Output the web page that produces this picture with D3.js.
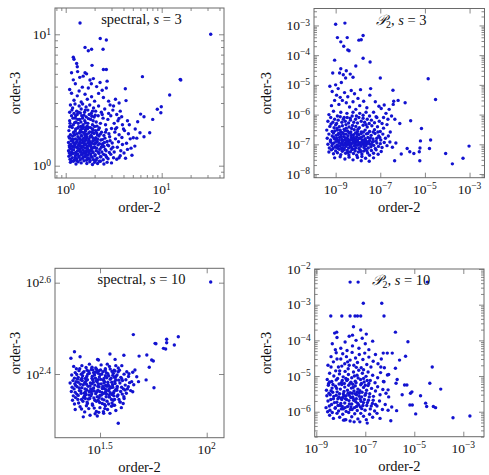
<!DOCTYPE html>
<html><head><meta charset="utf-8">
<script src="https://cdn.jsdelivr.net/npm/d3@7"></script>
<style>body{margin:0;background:#fff}svg text{font-family:"Liberation Serif","DejaVu Serif",serif;fill:#111}</style>
</head><body><svg id="c" width="489" height="475"></svg>
<script>
// ---------- DATA ----------
const titles = ["spectral", "P2", "spectral", "P2"];
const sValues = [3, 3, 10, 10];
const xAxisLabel = "order-2";
const yAxisLabel = "order-3";

const xTicks1 = [1, 10], xTickExp1 = ["0", "1"];
const yTicks1 = [1, 10], yTickExp1 = ["0", "1"];
const xTicks2 = [1e-9, 1e-7, 1e-5, 1e-3], xTickExp2 = ["−9", "−7", "−5", "−3"];
const yTicks2 = [1e-8, 1e-7, 1e-6, 1e-5, 1e-4, 1e-3], yTickExp2 = ["−8", "−7", "−6", "−5", "−4", "−3"];
const xTicks3 = [Math.pow(10, 1.5), 100], xTickExp3 = ["1.5", "2"];
const yTicks3 = [Math.pow(10, 2.4), Math.pow(10, 2.6)], yTickExp3 = ["2.4", "2.6"];
const xTicks4 = [1e-9, 1e-7, 1e-5, 1e-3], xTickExp4 = ["−9", "−7", "−5", "−3"];
const yTicks4 = [1e-6, 1e-5, 1e-4, 1e-3, 1e-2], yTickExp4 = ["−6", "−5", "−4", "−3", "−2"];

// spectral, s = 3   [order-2, order-3]
const spectralS3 = [
[1.41,12.2],[32.4,10.0],[2.29,9.3],[2.65,9.05],[1.59,7.95],[1.72,7.5],[1.86,7.7],[2.45,7.7],[1.2,6.7],[1.22,6.45],[1.88,5.8],[1.3,6.0],[1.32,5.66],[2.47,5.4],[2.65,5.4],[6.3,4.76],[15.6,4.54],[15.8,4.49],[12.1,3.45],[4.18,3.85],[4.25,3.13],[9.9,2.81],[9.0,2.69],[9.8,2.53],[6.03,2.47],[6.54,2.36],[8.06,2.25],[5.62,2.16],[7.5,1.78],[5.94,1.78],[6.54,1.66],[5.5,1.62],[5.06,1.63],[5.25,1.41],[4.79,1.36],[3.83,2.36],[3.59,2.29],
[1.12,2.9],[1.18,2.75],[1.25,2.95],[1.3,2.6],[1.38,2.85],[1.45,2.7],[1.5,2.95],[1.57,2.55],[1.63,2.8],[1.7,2.65],[1.78,2.9],[1.85,2.5],[1.95,2.75],[2.05,2.6],[2.2,2.85],[2.35,2.55],[2.55,2.7],[2.8,2.5],[3.1,2.65],[1.1,2.55],[1.22,2.5],[1.42,2.52],[2.9,2.9],[3.4,2.45],
[1.1,2.2],[1.15,2.4],[1.2,2.05],[1.26,2.3],[1.32,2.45],[1.35,2.1],[1.4,2.25],[1.47,2.4],[1.52,2.05],[1.58,2.2],[1.64,2.35],[1.7,2.1],[1.76,2.45],[1.82,2.25],[1.9,2.05],[1.98,2.35],[2.08,2.15],[2.18,2.4],[2.3,2.1],[2.45,2.3],[2.6,2.05],[2.75,2.25],[2.95,2.4],[3.2,2.1],[3.5,2.2],[3.9,2.05],[1.13,2.0],[1.28,2.15],[1.55,2.42],[1.87,2.38],[2.12,2.0],[2.4,2.45],[1.67,2.0],
[1.08,1.85],[1.12,1.72],[1.17,1.95],[1.21,1.8],[1.27,1.9],[1.31,1.75],[1.36,1.98],[1.41,1.82],[1.46,1.7],[1.5,1.92],[1.55,1.78],[1.6,1.88],[1.66,1.73],[1.72,1.96],[1.78,1.81],[1.84,1.7],[1.9,1.9],[1.97,1.76],[2.05,1.85],[2.14,1.72],[2.24,1.94],[2.36,1.8],[2.5,1.7],[2.65,1.88],[2.82,1.75],[3.0,1.92],[3.25,1.8],[3.6,1.72],[4.1,1.85],[4.5,1.75],[1.24,1.71],[1.44,1.99],[1.63,1.95],[2.0,1.99],
[1.07,1.5],[1.1,1.62],[1.14,1.55],[1.18,1.68],[1.22,1.48],[1.26,1.6],[1.3,1.52],[1.34,1.66],[1.38,1.46],[1.42,1.58],[1.46,1.68],[1.5,1.5],[1.54,1.62],[1.58,1.47],[1.62,1.56],[1.66,1.65],[1.7,1.49],[1.75,1.6],[1.8,1.52],[1.86,1.67],[1.92,1.55],[1.99,1.46],[2.06,1.63],[2.13,1.52],[2.22,1.68],[2.32,1.57],[2.43,1.47],[2.56,1.62],[2.7,1.53],[2.87,1.66],[3.05,1.49],[3.3,1.6],[3.55,1.52],[3.85,1.64],[4.3,1.48],[1.2,1.58],[1.4,1.51],[1.6,1.69],[1.78,1.45],[2.02,1.56],
[1.07,1.3],[1.09,1.42],[1.12,1.35],[1.15,1.27],[1.18,1.4],[1.21,1.32],[1.24,1.44],[1.27,1.26],[1.3,1.38],[1.33,1.3],[1.36,1.43],[1.4,1.34],[1.43,1.27],[1.47,1.4],[1.51,1.31],[1.55,1.44],[1.59,1.36],[1.63,1.26],[1.67,1.41],[1.71,1.33],[1.76,1.28],[1.81,1.43],[1.87,1.35],[1.93,1.26],[2.0,1.39],[2.08,1.3],[2.17,1.44],[2.27,1.33],[2.38,1.27],[2.5,1.4],[2.63,1.3],[2.8,1.42],[2.98,1.34],[3.2,1.27],[3.45,1.38],[3.75,1.3],[4.05,1.25],[1.45,1.36],[1.65,1.3],[1.85,1.39],
[1.08,1.18],[1.11,1.12],[1.14,1.22],[1.17,1.15],[1.2,1.24],[1.23,1.1],[1.26,1.19],[1.3,1.13],[1.34,1.23],[1.38,1.16],[1.42,1.11],[1.46,1.21],[1.5,1.14],[1.55,1.24],[1.6,1.17],[1.65,1.1],[1.7,1.2],[1.76,1.13],[1.82,1.23],[1.88,1.16],[1.95,1.11],[2.03,1.21],[2.12,1.14],[2.22,1.24],[2.33,1.17],[2.46,1.11],[2.6,1.2],[2.76,1.13],[2.95,1.22],[3.15,1.15],[3.4,1.12],[3.7,1.19],[4.2,1.14],
[1.12,1.06],[1.2,1.08],[1.28,1.03],[1.35,1.07],[1.45,1.05],[1.55,1.09],[1.66,1.04],[1.78,1.07],[1.9,1.02],[2.0,1.06],[2.15,1.04],[2.3,1.08],[2.5,1.03],[2.7,1.06],[3.0,1.05],
[1.15,5.1],[1.33,5.2],[1.59,5.1],[1.65,5.0],[1.52,4.8],[1.4,4.7],[1.79,4.49],[1.94,4.6],[2.28,4.3],[2.7,4.4],[1.26,4.2],[1.49,3.96],[1.72,3.9],[2.1,4.0],[2.65,3.9],[1.15,3.56],[1.32,3.4],[1.59,3.5],[1.86,3.35],[2.2,3.55],[2.47,3.3],[2.8,3.1],[3.3,3.2],[1.22,3.15],[1.45,3.05],[1.68,3.2],[2.0,3.1],[1.1,3.8],[1.38,3.7],[2.4,3.75],[3.6,3.0],[1.2,4.5],[1.85,4.2],
[3.15,2.85],[3.7,2.6],[4.4,2.2],[4.0,1.9],[4.7,1.6],[5.3,1.9],[4.6,2.05],[3.4,1.95],[3.9,1.45],[4.4,1.33],[4.9,1.2],[3.6,1.15],
[1.09,1.25],[1.13,1.45],[1.16,1.33],[1.19,1.52],[1.23,1.38],[1.25,1.15],[1.28,1.48],[1.29,1.21],[1.32,1.57],[1.35,1.36],[1.37,1.18],[1.39,1.62],[1.41,1.29],[1.44,1.49],[1.48,1.24],[1.49,1.57],[1.52,1.39],[1.53,1.17],[1.56,1.53],[1.57,1.28],[1.61,1.45],[1.62,1.2],[1.64,1.6],[1.68,1.37],[1.69,1.14],[1.73,1.54],[1.74,1.25],[1.77,1.42],[1.79,1.66],[1.83,1.31],[1.84,1.18],[1.89,1.48],[1.91,1.28],[1.94,1.62],[1.96,1.37],[2.01,1.19],[2.04,1.48],[2.1,1.36],[2.15,1.59],[2.19,1.27],[2.25,1.47],[2.29,1.17],[2.35,1.38],[2.41,1.58],[2.48,1.22],[2.53,1.5],[2.58,1.33],[2.67,1.16],[2.73,1.44],[2.85,1.26],[1.1,1.38],[1.14,1.09],[1.17,1.6],[1.22,1.76],[1.26,1.84],[1.33,1.93],[1.39,1.77],[1.43,1.88],[1.48,1.8],[1.53,1.96],[1.58,1.73],[1.61,1.83],[1.69,1.91],[1.74,1.77],[1.81,1.95],[1.88,1.79],[1.93,1.86],[2.1,1.78],[2.19,1.88],[2.3,1.74],[1.11,2.1],[1.19,2.3],[1.24,2.12],[1.34,2.25],[1.44,2.15],[1.5,2.3],[1.61,2.12],[1.73,2.28],[1.93,2.2],[2.03,2.42],[1.16,2.65],[1.27,2.4],[1.36,2.55],[1.6,2.65],[1.9,2.6],[1.08,1.66],[1.1,1.98],[1.13,1.21],[1.31,1.09],[1.42,1.42],[1.58,1.62],[1.72,1.3],[1.8,1.1],[2.07,1.1],[2.25,1.08],[2.4,1.44],[2.6,1.8],[2.9,1.55],[3.1,1.38],[3.3,1.9]
];

// P2, s = 3
const p2S3 = [
[1e-9,1.1e-3],[2.6e-9,1.2e-3],[1.2e-9,3.9e-4],[3.3e-9,3.9e-4],[1.7e-9,2.8e-4],[2.3e-9,2e-4],[3.5e-9,1.5e-4],[4e-9,1.4e-4],[1.1e-8,3.2e-4],[1.4e-8,3.3e-4],[1.7e-8,4.6e-4],[9e-10,6.8e-5],[1.7e-8,7.9e-5],[3.5e-8,5.9e-5],[8e-9,4.3e-5],[7.4e-10,2.5e-5],[1.7e-9,3.5e-5],[1.4e-5,1.6e-5],[3e-5,3.2e-6],[1e-7,1.7e-5],[3.7e-7,6.6e-6],[6.3e-7,3e-6],[1.3e-6,2.5e-6],[4e-7,2.8e-6],[3.8e-7,2.2e-6],[2.3e-6,6.2e-7],[7e-6,3.4e-7],[6.3e-6,1.3e-7],[6e-6,7.5e-8],[5.6e-6,5.6e-8],[5.9e-6,2.8e-8],[1.6e-5,7.2e-8],[1.8e-5,1.4e-7],[8.5e-5,4.9e-8],[1.7e-4,2.2e-8],[5.1e-4,3.4e-8],[9.5e-4,8.7e-8],[1.6e-6,7.2e-8],[2.1e-6,5.6e-8],[3.2e-6,4.9e-8],[8.7e-7,4.7e-8],[4.4e-7,2.8e-8],
[1.3e-8,6.9e-6],[3.7e-8,7.5e-6],[3.4e-8,4.5e-6],[6e-8,2.7e-6],[8.7e-8,1.9e-6],[1.1e-7,1.6e-6],[1.5e-7,2.1e-6],[6.5e-8,8.5e-7],[1.4e-7,8e-7],
[5.5e-10,9e-6],[7e-10,6e-6],[1e-9,1e-5],[1.3e-9,7.5e-6],[1.8e-9,1.2e-5],[2.2e-9,2.2e-5],[2.8e-9,1.7e-5],[1.5e-9,2.5e-5],[3e-9,3e-5],[4.5e-9,2.3e-5],[6e-9,1.8e-5],[1.1e-9,4.5e-6],[1.6e-9,3.8e-6],[2.5e-9,5.5e-6],[3.5e-9,4e-6],[5e-9,6.5e-6],[7e-9,5e-6],[1e-8,3.5e-6],[6.5e-10,2e-6],[9e-10,3e-6],[1.4e-9,2.2e-6],[2e-9,3e-6],[3e-9,2.5e-6],[4.2e-9,1.8e-6],[6e-9,2.7e-6],[8e-9,1.5e-6],[1.2e-8,2e-6],[1.8e-8,2.8e-6],[2.5e-8,1.7e-6],[5e-10,1e-6],[8e-10,1.3e-6],[1.2e-9,9e-7],[1.7e-9,1.2e-6],[2.4e-9,8e-7],[3.2e-9,1.1e-6],[4.5e-9,7.5e-7],[6e-9,1.2e-6],[8.5e-9,9e-7],[1.2e-8,1.1e-6],[1.7e-8,7.5e-7],[2.3e-8,1.2e-6],[3.3e-8,9e-7],[5e-8,1.2e-6],[2.5e-7,1.5e-6],[1.8e-7,1.1e-6],[2.2e-7,7e-7],[3.2e-7,9e-7],
[4.5e-10,6e-7],[6e-10,8e-7],[7.5e-10,5.5e-7],[9e-10,7e-7],[1.1e-9,5e-7],[1.3e-9,6.5e-7],[1.6e-9,8.5e-7],[1.9e-9,5.5e-7],[2.2e-9,7e-7],[2.7e-9,6e-7],[3.3e-9,8e-7],[3.8e-9,5.2e-7],[4.6e-9,6.5e-7],[5.5e-9,9e-7],[6.5e-9,5.5e-7],[7.8e-9,7e-7],[9.5e-9,5.2e-7],[1.1e-8,8e-7],[1.4e-8,6e-7],[1.7e-8,9.5e-7],[2e-8,5.5e-7],[2.6e-8,7e-7],[3.2e-8,5e-7],[4e-8,6.5e-7],[5.5e-8,5.3e-7],[7e-8,8e-7],[9e-8,6e-7],[1.2e-7,5e-7],[4.5e-7,7e-7],[7.5e-7,5e-7],
[4e-10,3e-7],[5.5e-10,4e-7],[7e-10,2.7e-7],[8.5e-10,3.6e-7],[1e-9,4.5e-7],[1.2e-9,3e-7],[1.45e-9,3.9e-7],[1.7e-9,2.6e-7],[2e-9,4.2e-7],[2.4e-9,3.2e-7],[2.9e-9,4.6e-7],[3.4e-9,2.8e-7],[4e-9,3.8e-7],[4.8e-9,2.6e-7],[5.7e-9,4.3e-7],[6.8e-9,3.1e-7],[8e-9,4e-7],[9.5e-9,2.7e-7],[1.15e-8,3.6e-7],[1.4e-8,2.6e-7],[1.7e-8,4.4e-7],[2.1e-8,3e-7],[2.6e-8,3.8e-7],[3.3e-8,2.7e-7],[4.2e-8,4.2e-7],[5.5e-8,3.1e-7],[7.5e-8,3.9e-7],[1e-7,2.7e-7],[1.4e-7,3.5e-7],[2e-7,4.6e-7],[2.8e-7,2.6e-7],
[4.2e-10,1.6e-7],[5e-10,2.2e-7],[6e-10,1.4e-7],[7e-10,1.9e-7],[8e-10,2.4e-7],[9e-10,1.5e-7],[1.05e-9,2e-7],[1.2e-9,1.35e-7],[1.35e-9,2.3e-7],[1.5e-9,1.7e-7],[1.7e-9,2.1e-7],[1.9e-9,1.45e-7],[2.1e-9,2.45e-7],[2.35e-9,1.8e-7],[2.6e-9,1.4e-7],[2.9e-9,2.2e-7],[3.2e-9,1.6e-7],[3.6e-9,1.95e-7],[4e-9,1.35e-7],[4.5e-9,2.35e-7],[5e-9,1.7e-7],[5.6e-9,1.45e-7],[6.3e-9,2.1e-7],[7e-9,1.55e-7],[7.8e-9,2.4e-7],[8.7e-9,1.8e-7],[9.7e-9,1.4e-7],[1.1e-8,2.1e-7],[1.25e-8,1.6e-7],[1.4e-8,2.3e-7],[1.6e-8,1.4e-7],[1.8e-8,1.9e-7],[2.1e-8,1.55e-7],[2.4e-8,2.25e-7],[2.8e-8,1.7e-7],[3.3e-8,1.35e-7],[3.9e-8,2e-7],[4.7e-8,1.5e-7],[5.8e-8,2.3e-7],[7e-8,1.6e-7],[8.5e-8,1.9e-7],[1.05e-7,1.4e-7],[1.3e-7,2.2e-7],[1.7e-7,1.6e-7],[2.3e-7,1.9e-7],
[4.5e-10,1e-7],[5.2e-10,7.5e-8],[6e-10,1.2e-7],[6.8e-10,9e-8],[7.6e-10,7.2e-8],[8.5e-10,1.1e-7],[9.5e-10,8.3e-8],[1.05e-9,1.25e-7],[1.15e-9,9.5e-8],[1.28e-9,7.3e-8],[1.4e-9,1.15e-7],[1.55e-9,8.8e-8],[1.7e-9,1.05e-7],[1.85e-9,7.6e-8],[2e-9,1.2e-7],[2.2e-9,9.2e-8],[2.4e-9,7.2e-8],[2.65e-9,1.1e-7],[2.9e-9,8.5e-8],[3.15e-9,1.27e-7],[3.45e-9,9.8e-8],[3.8e-9,7.5e-8],[4.15e-9,1.15e-7],[4.6e-9,8.8e-8],[5e-9,1.05e-7],[5.5e-9,7.3e-8],[6.1e-9,1.22e-7],[6.7e-9,9e-8],[7.4e-9,1.08e-7],[8.1e-9,7.7e-8],[9e-9,1.18e-7],[1e-8,9.3e-8],[1.1e-8,7.2e-8],[1.22e-8,1.12e-7],[1.35e-8,8.6e-8],[1.5e-8,1.25e-7],[1.65e-8,1e-7],[1.85e-8,7.8e-8],[2.05e-8,1.15e-7],[2.3e-8,9e-8],[2.6e-8,1.2e-7],[2.9e-8,7.5e-8],[3.3e-8,1.02e-7],[3.8e-8,8.3e-8],[4.4e-8,1.2e-7],[5.1e-8,9.2e-8],[6e-8,7.2e-8],[7e-8,1.1e-7],[8.3e-8,8.5e-8],[1e-7,1.05e-7],[1.2e-7,7.8e-8],[1.5e-7,1.15e-7],[2e-7,9e-8],[2.7e-7,1.2e-7],[3.5e-7,8e-8],[5e-7,1.1e-7],
[5e-10,5.5e-8],[6.5e-10,6.5e-8],[8e-10,4.8e-8],[1e-9,6e-8],[1.2e-9,5.2e-8],[1.45e-9,6.8e-8],[1.7e-9,4.5e-8],[2e-9,5.8e-8],[2.4e-9,6.6e-8],[2.8e-9,5e-8],[3.3e-9,6.2e-8],[3.9e-9,4.4e-8],[4.6e-9,5.6e-8],[5.4e-9,6.7e-8],[6.3e-9,4.9e-8],[7.5e-9,6e-8],[8.8e-9,4.3e-8],[1.05e-8,5.5e-8],[1.25e-8,6.5e-8],[1.5e-8,4.7e-8],[1.8e-8,5.9e-8],[2.2e-8,6.8e-8],[2.7e-8,5.1e-8],[3.3e-8,4.3e-8],[4e-8,6.2e-8],[5e-8,5e-8],[6.5e-8,6.5e-8],[8e-8,4.6e-8],[1.1e-7,5.7e-8],
[9e-10,3.5e-8],[1.6e-9,3.8e-8],[2.6e-9,3.2e-8],[4e-9,3.7e-8],[6e-9,3e-8],[9.5e-9,3.6e-8],[1.4e-8,2.8e-8],[2.2e-8,3.4e-8],[3.2e-8,2.7e-8],[5e-8,3.5e-8],[1.5e-8,3.9e-8],
[5.8e-10,1.3e-7],[7.2e-10,1.05e-7],[8.2e-10,1.7e-7],[9.2e-10,2.8e-7],[1.1e-9,1.6e-7],[1.25e-9,2.1e-7],[1.3e-9,9e-8],[1.45e-9,1.35e-7],[1.6e-9,3e-7],[1.8e-9,1.8e-7],[1.95e-9,9.8e-8],[2.1e-9,1.35e-7],[2.3e-9,2.2e-7],[2.5e-9,1e-7],[2.75e-9,1.65e-7],[3e-9,3.5e-7],[3.3e-9,1.1e-7],[3.55e-9,1.5e-7],[3.9e-9,2.5e-7],[4.3e-9,9.5e-8],[4.7e-9,1.4e-7],[5.2e-9,2e-7],[5.8e-9,1.1e-7],[6.4e-9,1.7e-7],[7.2e-9,1.3e-7],[7.9e-9,9.5e-8],[8.4e-9,1.45e-7],[9.3e-9,2.2e-7],[1.05e-8,1.15e-7],[1.15e-8,1.6e-7],[1.3e-8,1e-7],[1.45e-8,1.75e-7],[1.6e-8,1.2e-7],[1.75e-8,2.6e-7],[1.95e-8,9.5e-8],[2.2e-8,1.35e-7],[2.5e-8,1.05e-7],[2.75e-8,2.3e-7],[3.1e-8,1.2e-7],[3.6e-8,1.65e-7],[4.2e-8,9.8e-8],[4.9e-8,1.25e-7],[6.5e-8,1.3e-7],[7.8e-8,2.6e-7],[9.5e-8,1.7e-7],[6.2e-10,4.8e-7],[1.15e-9,3.4e-7],[2.6e-9,2.9e-7],[5.2e-9,3.4e-7],[1e-8,3.2e-7],[2.3e-8,4.6e-7],[4.8e-8,2.6e-7],[1.9e-9,6.5e-8],[3.6e-9,5.3e-8],[7e-9,6.8e-8],[1.35e-8,5.7e-8],[2.5e-8,6e-8],[1.1e-9,7.8e-8],[5e-9,8.2e-8]
];

// spectral, s = 10
const spectralS10 = [
[104.4,399.6],[45.3,306.4],[73.6,303],[64.9,299.2],[64.9,294],[57.3,293.2],[57.8,292.5],[62.7,285.9],[64.2,285],[70.5,290.7],[52.4,276.4],[48.2,274.9],[55.2,269.6],[56.2,268.2],[53.8,259.8],[52,243.8],[56.6,234.4],[40.9,276],[35.2,277.8],[37.2,270.4],[30.8,270.4],[31.1,269.5],[38.5,196],[24,281],[23.1,271.9],[25.5,274],
[42.2,254],[45,253.5],[46.1,256.3],[47,247.8],[44.5,241.7],[47.9,241.7],[42.9,235.6],[41.4,231.7],[45,229.7],[40.9,224],[39.2,218.3],[36.5,214.7],[40.6,216.4],[35.2,206],[32.8,207.6],[26.4,202.4],[28.4,204],[30.7,203.2],
[24.5,258],[26,262],[27.5,256],[29,260],[30.5,257],[32,263],[33.5,258],[35,261],[36.8,256],[38.5,259],[40,262],[25.2,255.5],[28.2,264],[31.2,255],[34.2,264],[37.5,262],[23.8,261],
[23.3,250],[24.2,253],[25,247],[25.8,251],[26.6,254],[27.4,248],[28.2,252],[29,246],[29.8,250],[30.6,254],[31.4,247.5],[32.2,251],[33,245.5],[33.8,253],[34.7,249],[35.6,246],[36.5,252],[37.5,248],[38.5,254],[39.6,247],[41,251],[43,248],[24,246],[27,245.5],[30,253.5],[33.5,249],[36,254.5],
[22.9,240],[23.6,243],[24.3,237],[25,241],[25.7,244],[26.4,238],[27.1,242],[27.8,236],[28.5,240],[29.2,244],[29.9,237.5],[30.6,241.5],[31.3,235.5],[32,239],[32.8,243.5],[33.6,237],[34.4,241],[35.3,244.5],[36.2,238],[37.1,242],[38.1,236],[39.2,240],[40.3,243],[41.5,237.5],[43.5,240.5],[45.5,238],[24.7,235.5],[26.8,240.5],[29,239],[31,244],[33,240],[35,236],[37.5,244],
[23.2,230],[23.9,233],[24.6,227],[25.3,231],[26,234.5],[26.7,228],[27.4,232],[28.1,226],[28.8,230],[29.5,234],[30.2,227.5],[30.9,231.5],[31.6,225.5],[32.3,229],[33.1,233.5],[33.9,227],[34.7,231],[35.6,234.5],[36.5,228],[37.4,232],[38.4,226],[39.5,230],[40.7,233],[42,228],[44,231],[25,225.5],[27,229.5],[29,232.5],[31.5,230],[33.5,229],[36,226.5],[38,234],[24.2,229],
[23.5,220],[24.3,223],[25.1,217],[25.9,221],[26.7,224.5],[27.5,218],[28.3,222],[29.1,216],[29.9,220],[30.7,224],[31.5,217.5],[32.3,221.5],[33.2,215.5],[34.1,219],[35,223.5],[36,217],[37,221],[38.1,224.5],[39.3,218],[41,222],[24,216],[26.3,219],[28.7,225],[31,220],[33.8,224],[36.5,220],
[24.2,210],[25.5,213],[26.8,207.5],[28,211],[29.2,214.5],[30.4,208],[31.6,212],[32.9,206],[34.3,210],[35.8,213.5],[37.5,209],[27.3,214],[30,205.5],[33.5,214],
[24.8,245],[25.6,238.5],[26.2,249],[26.9,233],[27.6,244],[28.4,236.5],[29.1,248.5],[29.7,230.5],[30.3,243],[30.9,236],[31.7,250.5],[32.4,233.5],[33.2,241.5],[34,246.5],[34.9,233],[35.9,241],[36.9,247],[37.9,231.5],[24.1,239],[25.3,234],[26.1,243],[27.3,238.5],[28.6,233],[29.4,241],[30.1,246],[31.1,239],[32.6,236],[33.7,232],[34.5,238],[35.3,228.5],[36.3,235],[37.2,239.5],[38.7,243.5],[39.9,235],[23.7,225],[24.9,221],[25.8,228],[26.5,223],[27.2,226.5],[27.9,221.5],[28.9,227.5],[29.6,222.5],[30.5,229.5],[31.3,223],[32.1,226],[33,220.5],[33.8,230.5],[34.9,226],[35.8,221],[36.8,230],[24.6,250.5],[25.4,258],[26.3,253],[27.2,259.5],[28,254.5],[28.8,257],[29.5,253],[30.2,259],[31,252],[31.8,256.5],[32.6,254],[33.4,256],[34.4,251.5],[35.3,257.5],[36.3,249.5],[37.2,255],[38,250],[39,256],[40,245],[41.8,244],[42.5,233],[43.2,251.5],[38.8,221],[40.2,227],[39.8,212],[37,214.5],[25.9,210.5],[27.6,216.5],[29.7,211.5],[31.2,207],[32.4,216.5],[34.7,216],[23.4,235],[24.4,241.5],[26,246],[27.7,251],[29.3,256.5],[31.9,244.5],[34.1,236],[36.7,225],[30.4,219],[28.1,230],[32.8,227.5],[25.7,230.5],[27,222],[33.3,211]
];

// P2, s = 10
const p2S10 = [
[2.4e-8,4.3e-3],[5.1e-8,4.3e-3],[3.4e-5,4.3e-3],[8.3e-8,1.1e-3],[4.7e-7,1.1e-3],[3.9e-9,4.8e-4],[1.1e-8,4.8e-4],[2.4e-8,4.8e-4],[3.8e-8,4.8e-4],[4.8e-8,4.8e-4],[6.5e-8,4.8e-4],[5.8e-7,4.8e-4],[6.8e-9,1.7e-4],[5.6e-9,1.6e-4],[3.3e-8,2.4e-4],[6.5e-8,1.95e-4],[1.7e-6,1.7e-4],[5.5e-6,9.1e-5],[4.4e-6,3.6e-5],[5.4e-5,1.8e-5],[4.3e-5,6.3e-6],[1.2e-4,4.3e-6],[3.8e-4,6.8e-7],[1.86e-3,7.6e-7],[2.9e-5,1.74e-6],[6e-5,1.4e-6],[7.4e-5,1.3e-6],[3.2e-5,1.4e-6],[1.8e-5,2.8e-6],[1.14e-5,8.7e-7],[6.6e-6,1.55e-6],[8.3e-6,1.55e-6],[8e-6,3.6e-6],[7e-6,3.3e-6],[5e-6,5.6e-6],[4e-6,5.6e-6],[3.2e-6,3e-6],[1.1e-6,5.6e-7],[1.9e-6,1.07e-6],[1.2e-7,4.8e-7],[6e-8,5.2e-7],[3.5e-8,5.2e-7],[1.45e-8,5.9e-7],[4.3e-7,1.8e-5],[8e-7,1.07e-5],[9e-7,1.1e-5],[2e-6,8e-6],[1.8e-6,6.3e-6],[5.8e-7,6.9e-6],[8.5e-7,4.1e-6],[1.26e-6,4.4e-5],[7.9e-7,4.4e-5],[5.4e-7,4.4e-5],[1.7e-6,1.66e-5],[2.5e-6,2.8e-5],
[4.5e-9,8e-5],[7e-9,1.2e-4],[1e-8,6e-5],[1.5e-8,9e-5],[2.2e-8,1.3e-4],[3e-8,7e-5],[4.2e-8,1e-4],[5.5e-8,6e-5],[7.5e-8,1.15e-4],[1e-7,8e-5],[1.4e-7,5.5e-5],[2e-7,9.5e-5],[1.1e-7,1.5e-4],[3e-8,1.4e-4],[6e-9,5.5e-5],[1.8e-8,5.2e-5],
[3e-9,2e-5],[4e-9,3.5e-5],[5e-9,2.5e-5],[6.5e-9,4.5e-5],[8e-9,1.8e-5],[1e-8,3e-5],[1.2e-8,4.2e-5],[1.45e-8,2.2e-5],[1.7e-8,3.5e-5],[2e-8,1.6e-5],[2.4e-8,2.8e-5],[2.9e-8,4.6e-5],[3.4e-8,2e-5],[4e-8,3.2e-5],[4.8e-8,2.4e-5],[5.7e-8,4e-5],[6.8e-8,1.7e-5],[8e-8,2.9e-5],[9.5e-8,4.4e-5],[1.15e-7,2.1e-5],[1.4e-7,3.4e-5],[1.7e-7,1.8e-5],[2.1e-7,2.6e-5],[2.6e-7,4e-5],[3.3e-7,2.2e-5],[4.5e-7,3e-5],[6e-7,1.7e-5],[2.2e-8,2e-5],[7e-9,3e-5],[1.1e-8,1.9e-5],
[2.8e-9,8e-6],[3.5e-9,1.2e-5],[4.3e-9,7e-6],[5.2e-9,1e-5],[6.2e-9,1.4e-5],[7.4e-9,8.5e-6],[8.8e-9,1.15e-5],[1.05e-8,6.5e-6],[1.25e-8,9.5e-6],[1.5e-8,1.35e-5],[1.75e-8,7.5e-6],[2.05e-8,1.1e-5],[2.4e-8,6.3e-6],[2.8e-8,9e-6],[3.3e-8,1.3e-5],[3.9e-8,7.2e-6],[4.6e-8,1.05e-5],[5.4e-8,1.45e-5],[6.4e-8,8e-6],[7.6e-8,1.2e-5],[9e-8,6.8e-6],[1.07e-7,9.8e-6],[1.3e-7,1.3e-5],[1.6e-7,7.5e-6],[2e-7,1.05e-5],[2.5e-7,6.5e-6],[3.2e-7,9e-6],[4.2e-7,1.25e-5],[5.5e-7,7e-6],[3.2e-9,6.2e-6],[1.6e-8,8.5e-6],[3.6e-8,1e-5],[1.2e-7,7.5e-6],
[2.6e-9,4e-6],[3.1e-9,5.5e-6],[3.7e-9,3e-6],[4.4e-9,4.6e-6],[5.2e-9,2.7e-6],[6.1e-9,5.2e-6],[7.1e-9,3.6e-6],[8.3e-9,2.6e-6],[9.6e-9,4.3e-6],[1.1e-8,5.8e-6],[1.27e-8,3.2e-6],[1.45e-8,4.9e-6],[1.65e-8,2.8e-6],[1.87e-8,4e-6],[2.1e-8,5.5e-6],[2.38e-8,3.4e-6],[2.7e-8,4.6e-6],[3.05e-8,2.6e-6],[3.45e-8,3.8e-6],[3.9e-8,5.3e-6],[4.4e-8,3e-6],[5e-8,4.3e-6],[5.7e-8,2.7e-6],[6.5e-8,5.7e-6],[7.4e-8,3.5e-6],[8.5e-8,4.8e-6],[9.8e-8,2.9e-6],[1.13e-7,4e-6],[1.3e-7,5.4e-6],[1.52e-7,3.2e-6],[1.8e-7,4.5e-6],[2.15e-7,2.7e-6],[2.6e-7,3.8e-6],[3.2e-7,5e-6],[4e-7,3e-6],[5.2e-7,4.2e-6],[7e-7,3.3e-6],[9e-7,2.6e-6],[4e-9,3.9e-6],[6.8e-9,4.5e-6],[1.35e-8,3.7e-6],[2.2e-8,2.9e-6],[3.2e-8,4.8e-6],[4.7e-8,3.6e-6],[1.2e-8,2.5e-6],[2.9e-8,3.3e-6],[6e-8,3.9e-6],
[2.5e-9,1.3e-6],[3e-9,2e-6],[3.6e-9,1.1e-6],[4.2e-9,1.6e-6],[5e-9,2.3e-6],[5.9e-9,1.25e-6],[6.9e-9,1.85e-6],[8.1e-9,1.05e-6],[9.4e-9,1.5e-6],[1.09e-8,2.2e-6],[1.26e-8,1.2e-6],[1.45e-8,1.75e-6],[1.66e-8,1.02e-6],[1.9e-8,1.4e-6],[2.16e-8,2.05e-6],[2.46e-8,1.15e-6],[2.8e-8,1.65e-6],[3.18e-8,2.4e-6],[3.6e-8,1.3e-6],[4.1e-8,1.9e-6],[4.7e-8,1.08e-6],[5.4e-8,1.55e-6],[6.2e-8,2.25e-6],[7.2e-8,1.22e-6],[8.4e-8,1.8e-6],[9.8e-8,1.1e-6],[1.15e-7,1.5e-6],[1.35e-7,2.1e-6],[1.6e-7,1.2e-6],[1.95e-7,1.7e-6],[2.4e-7,1.05e-6],[3e-7,1.45e-6],[3.8e-7,2e-6],[5e-7,1.15e-6],[6.5e-7,1.6e-6],[8.5e-7,1.1e-6],[1.2e-6,1.35e-6],[3.4e-9,1.45e-6],[7.6e-9,2.3e-6],[1.55e-8,2.3e-6],[2.6e-8,1.35e-6],[4.4e-8,1.4e-6],[1e-8,1.7e-6],[6.7e-8,1.95e-6],
[3.5e-9,8e-7],[5e-9,6.5e-7],[7e-9,9e-7],[9e-9,7e-7],[1.2e-8,8.5e-7],[1.6e-8,6e-7],[2.1e-8,9.5e-7],[2.8e-8,7.2e-7],[3.7e-8,8.8e-7],[5e-8,6.3e-7],[6.5e-8,9e-7],[8.5e-8,7.5e-7],[1.1e-7,6e-7],[1.5e-7,8.5e-7],[2e-7,7e-7],[3e-7,9e-7],[4e-7,6.5e-7],[2.4e-8,5.5e-7],[1.3e-8,5.8e-7],
[3.3e-9,3.3e-6],[3.9e-9,2.2e-6],[4.7e-9,3.5e-6],[5.5e-9,1.8e-6],[6.5e-9,2.9e-6],[7.7e-9,1.5e-6],[8.9e-9,3.2e-6],[1.02e-8,2.4e-6],[1.15e-8,1.4e-6],[1.32e-8,2.8e-6],[1.5e-8,1.3e-6],[1.72e-8,2.2e-6],[1.98e-8,3.3e-6],[2.25e-8,1.65e-6],[2.55e-8,2.5e-6],[2.9e-8,1.15e-6],[3.35e-8,2.1e-6],[3.8e-8,3.2e-6],[4.3e-8,2.3e-6],[4.9e-8,1.7e-6],[5.6e-8,3.3e-6],[6.3e-8,1.35e-6],[7.1e-8,2.6e-6],[8e-8,1.5e-6],[9.2e-8,2.2e-6],[1.06e-7,3.3e-6],[1.22e-7,1.8e-6],[1.45e-7,2.6e-6],[1.75e-7,1.45e-6],[2.1e-7,2.1e-6],[2.6e-7,1.6e-6],[3.5e-9,6.8e-6],[4.8e-9,5.8e-6],[6.5e-9,7.8e-6],[8.5e-9,6e-6],[1.15e-8,7.5e-6],[1.4e-8,6.2e-6],[1.9e-8,8e-6],[2.6e-8,6.7e-6],[3.1e-8,5.9e-6],[4.2e-8,6.5e-6],[5.1e-8,8.8e-6],[7e-8,6.2e-6],[8.5e-8,8.6e-6],[1e-7,5.5e-6],[1.4e-7,6.2e-6],[4e-9,1.8e-5],[9e-9,1.4e-5],[1.9e-8,2.5e-5],[4.3e-8,1.75e-5],[8.5e-8,1.5e-5],[2.7e-9,2.8e-6],[2.9e-9,1e-6],[4.5e-9,9.5e-7],[6e-9,1.3e-6],[1.05e-8,1.2e-6]
];

// ---------- LAYOUT ----------
const svg = d3.select("#c");
const frameColor = "#6a6a6a";
const dotFill = "#1212d0";

const panels = [
  {data: spectralS3, t: 0, box: [55, 8, 224, 178], xe: [-0.1115, 1.649], ye: [-0.0936, 1.2],
   xt: xTicks1, xl: xTickExp1, yt: yTicks1, yl: yTickExp1, xMinor: true, yMinor: true, ylabX: 20},
  {data: p2S3, t: 1, box: [314, 8.5, 484.5, 177.7], xe: [-9.97, -2.33], ye: [-8.124, -2.43],
   xt: xTicks2, xl: xTickExp2, yt: yTicks2, yl: yTickExp2, xMinor: false, yMinor: true, ylabX: 271},
  {data: spectralS10, t: 2, box: [55, 268.3, 224, 437.7], xe: [1.289, 2.081], ye: [2.2605, 2.6315],
   xt: xTicks3, xl: xTickExp3, yt: yTicks3, yl: yTickExp3, xMinor: false, yMinor: false, ylabX: 20},
  {data: p2S10, t: 3, box: [314.7, 269, 484, 436.7], xe: [-9.065, -2.155], ye: [-6.70, -2.0],
   xt: xTicks4, xl: xTickExp4, yt: yTicks4, yl: yTickExp4, xMinor: false, yMinor: true, ylabX: 271}
];

function minorTicks(dom) {
  const out = [];
  const lo = Math.floor(Math.log10(dom[0])), hi = Math.ceil(Math.log10(dom[1]));
  for (let e = lo; e <= hi; e++) for (let k = 2; k <= 9; k++) {
    const v = k * Math.pow(10, e);
    if (v > dom[0] && v < dom[1]) out.push(v);
  }
  return out;
}

function supLabel(sel, exp) {
  sel.append("tspan").text("10");
  sel.append("tspan").attr("dy", "-0.45em").attr("font-size", "9.5px").text(exp);
}

panels.forEach(p => {
  const [x0, y0, x1, y1] = p.box;
  const x = d3.scaleLog().domain([Math.pow(10, p.xe[0]), Math.pow(10, p.xe[1])]).range([x0, x1]);
  const y = d3.scaleLog().domain([Math.pow(10, p.ye[0]), Math.pow(10, p.ye[1])]).range([y1, y0]);
  const g = svg.append("g");

  const addAxis = (axis, tr) => {
    const a = g.append("g").attr("transform", tr).call(axis);
    a.select(".domain").remove();
    a.selectAll("line").attr("stroke", frameColor).attr("stroke-width", 0.8);
  };
  const major = 5, minor = 3;
  addAxis(d3.axisBottom(x).tickValues(p.xt).tickSize(-major).tickFormat(""), `translate(0,${y1})`);
  addAxis(d3.axisTop(x).tickValues(p.xt).tickSize(-major).tickFormat(""), `translate(0,${y0})`);
  addAxis(d3.axisLeft(y).tickValues(p.yt).tickSize(-major).tickFormat(""), `translate(${x0},0)`);
  addAxis(d3.axisRight(y).tickValues(p.yt).tickSize(-major).tickFormat(""), `translate(${x1},0)`);
  if (p.xMinor) {
    const mt = minorTicks(x.domain());
    addAxis(d3.axisBottom(x).tickValues(mt).tickSize(-minor).tickFormat(""), `translate(0,${y1})`);
    addAxis(d3.axisTop(x).tickValues(mt).tickSize(-minor).tickFormat(""), `translate(0,${y0})`);
  }
  if (p.yMinor) {
    const mt = minorTicks(y.domain());
    addAxis(d3.axisLeft(y).tickValues(mt).tickSize(-minor).tickFormat(""), `translate(${x0},0)`);
    addAxis(d3.axisRight(y).tickValues(mt).tickSize(-minor).tickFormat(""), `translate(${x1},0)`);
  }

  g.append("g").selectAll("circle").data(p.data).join("circle")
    .attr("cx", d => x(d[0])).attr("cy", d => y(d[1])).attr("r", 1.7)
    .attr("fill", dotFill);

  g.append("rect").attr("x", x0).attr("y", y0).attr("width", x1 - x0).attr("height", y1 - y0)
    .attr("fill", "none").attr("stroke", frameColor).attr("stroke-width", 1);

  p.xt.forEach((v, i) => {
    const t = g.append("text").attr("x", x(v)).attr("y", y1 + 16).attr("text-anchor", "middle").attr("font-size", "13.5px");
    supLabel(t, p.xl[i]);
  });
  p.yt.forEach((v, i) => {
    const t = g.append("text").attr("x", x0 - 4).attr("y", y(v) + 4.5).attr("text-anchor", "end").attr("font-size", "13.5px");
    supLabel(t, p.yl[i]);
  });

  g.append("text").attr("x", (x0 + x1) / 2).attr("y", y1 + 34).attr("text-anchor", "middle")
    .attr("font-size", "14.5px").text(xAxisLabel);
  g.append("text").attr("transform", `translate(${p.ylabX},${(y0 + y1) / 2}) rotate(-90)`)
    .attr("text-anchor", "middle").attr("font-size", "14.5px").text(yAxisLabel);

  const tt = g.append("text").attr("x", (x0 + x1) / 2 + 2).attr("y", y0 + 16).attr("text-anchor", "middle").attr("font-size", "14.5px");
  if (titles[p.t] === "P2") {
    tt.append("tspan").attr("font-style", "italic").text("𝒫");
    tt.append("tspan").attr("dy", "3").attr("font-size", "10px").text("2");
    tt.append("tspan").attr("dy", "-3").text(", ");
  } else {
    tt.append("tspan").text(titles[p.t] + ", ");
  }
  tt.append("tspan").attr("font-style", "italic").text("s");
  tt.append("tspan").text(" = " + sValues[p.t]);
});
</script>
</body></html>
